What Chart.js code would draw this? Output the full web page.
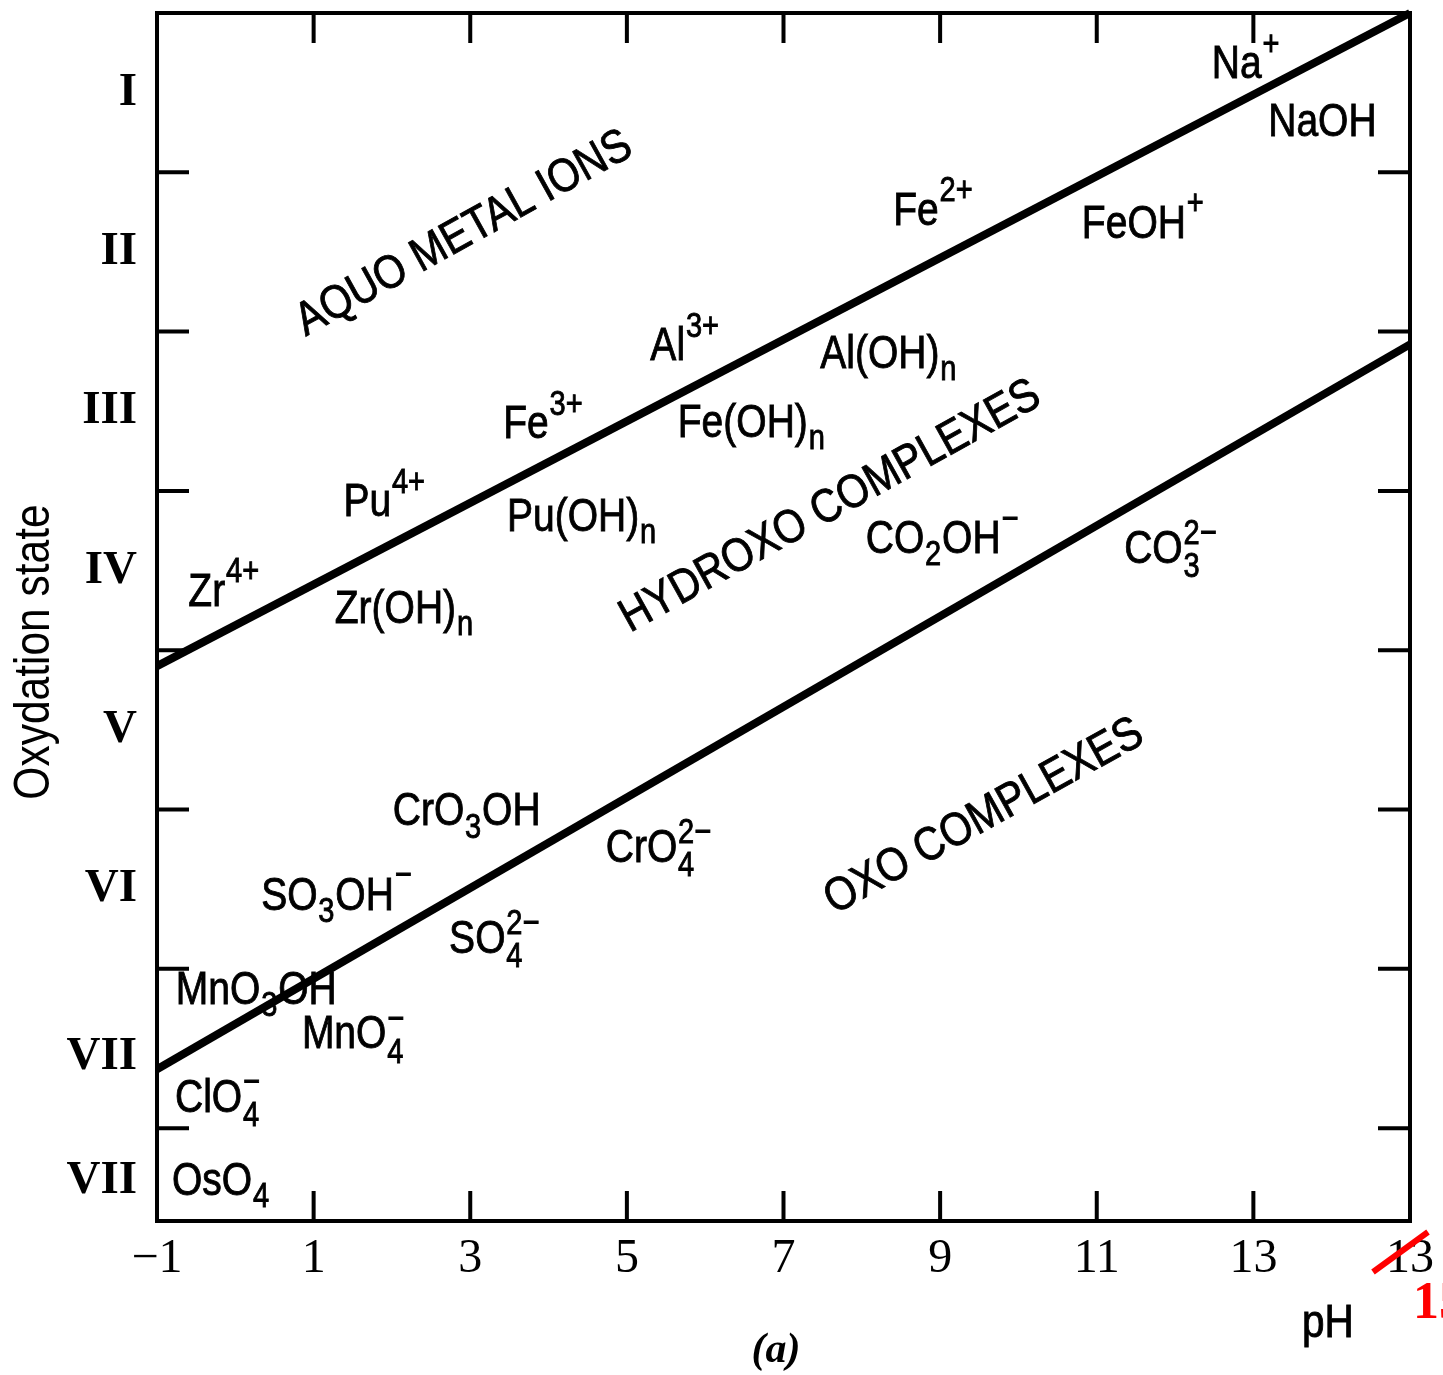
<!DOCTYPE html>
<html lang="en">
<head>
<meta charset="UTF-8">
<title>Oxydation state vs pH</title>
<style>
  body { margin: 0; background: #fff; }
  #grafico { display: block; }
</style>
</head>
<body>
<canvas id="grafico" width="1443" height="1375"></canvas>
<script src="https://cdn.jsdelivr.net/npm/chart.js"></script>
<script>
// boundary lines (pH, oxydation position)
var pHEnds = [-1, 15];
var aquoHydroxo = [4.10, 0.00];   // AQUO / HYDROXO boundary
var hydroxoOxo = [6.63, 2.08];    // HYDROXO / OXO boundary

// axes
var xTicks = [-1, 1, 3, 5, 7, 9, 11, 13, 15];
var xTickLabels = ['\u22121', '1', '3', '5', '7', '9', '11', '13', '13'];
var xInnerTicks = [1, 3, 5, 7, 9, 11, 13];
var yLabelPos = [0.5, 1.5, 2.5, 3.5, 4.5, 5.5, 6.55, 7.33];
var yTickLabels = ['I', 'II', 'III', 'IV', 'V', 'VI', 'VII', 'VII'];
var yInnerTicks = [1, 2, 3, 4, 5, 6, 7];

// species: [text, pH, oxydation] at the start of the baseline
var especies = [
  ['Na^{+}', 12.47, 0.41],
  ['NaOH', 13.19, 0.77],
  ['FeOH^{+}', 10.81, 1.41],
  ['Fe^{2+}', 8.40, 1.33],
  ['Al^{3+}', 5.30, 2.18],
  ['Al(OH)_{n}', 7.47, 2.23],
  ['Fe^{3+}', 3.42, 2.67],
  ['Fe(OH)_{n}', 5.65, 2.66],
  ['Pu^{4+}', 1.38, 3.16],
  ['Pu(OH)_{n}', 3.47, 3.25],
  ['CO_{2}OH^{\u2212}', 8.05, 3.39],
  ['CO_{3}^{2\u2212}', 11.35, 3.45],
  ['Zr^{4+}', -0.60, 3.72],
  ['Zr(OH)_{n}', 1.27, 3.83],
  ['CrO_{3}OH', 2.01, 5.10],
  ['CrO_{4}^{2\u2212}', 4.73, 5.33],
  ['SO_{3}OH^{\u2212}', 0.33, 5.63],
  ['SO_{4}^{2\u2212}', 2.73, 5.90],
  ['MnO_{3}OH', -0.76, 6.22],
  ['MnO_{4}^{\u2212}', 0.85, 6.50],
  ['ClO_{4}^{\u2212}', -0.77, 6.90],
  ['OsO_{4}', -0.81, 7.42]
];

// region names: [text, pH, oxydation]
var regioes = [
  ['AQUO METAL IONS', 0.90, 2.03],
  ['HYDROXO COMPLEXES', 5.04, 3.89],
  ['OXO COMPLEXES', 7.65, 5.66]
];

function partes(txt) {
  var out = [], re = /([_^])\{([^}]*)\}|([^_^]+)/g, m;
  while ((m = re.exec(txt))) {
    if (m[3]) out.push({ t: m[3], k: 'n' });
    else out.push({ t: m[2], k: m[1] == '_' ? 'sub' : 'sup' });
  }
  return out;
}

// fill + thin stroke, the print is a bit heavier than plain Liberation Sans
function texto(ctx, t, x, y) {
  ctx.fillText(t, x, y);
  ctx.strokeText(t, x, y);
}

function desenhaFormula(ctx, txt, size) {
  var p = partes(txt), x = 0, small = Math.round(size * 0.74);
  for (var i = 0; i < p.length; i++) {
    if (p[i].k == 'n') {
      ctx.font = size + 'px "Liberation Sans"';
      texto(ctx, p[i].t, x, 0);
      x += ctx.measureText(p[i].t).width;
    } else {
      ctx.font = small + 'px "Liberation Sans"';
      var w = ctx.measureText(p[i].t).width;
      var nx = p[i + 1];
      if (p[i].k == 'sub' && nx && nx.k == 'sup') {
        // stacked charge over the index
        texto(ctx, p[i].t, x + 1, size * 0.3);
        texto(ctx, nx.t, x + 1, -size * 0.4);
        w = Math.max(w, ctx.measureText(nx.t).width);
        i++;
      } else {
        texto(ctx, p[i].t, x + 1, p[i].k == 'sub' ? size * 0.26 : -size * 0.5);
      }
      x += w + 2;
    }
  }
}

var moldura = {
  id: 'moldura',
  afterDatasetsDraw(chart) {
    var ctx = chart.ctx, a = chart.chartArea, sx = chart.scales.x, sy = chart.scales.y;
    ctx.save();
    ctx.strokeStyle = '#000';
    ctx.lineWidth = 4;
    ctx.strokeRect(a.left, a.top, a.right - a.left, a.bottom - a.top);

    // ticks pointing inward on all four sides
    ctx.beginPath();
    xInnerTicks.forEach(function (v) {
      var px = sx.getPixelForValue(v);
      ctx.moveTo(px, a.top); ctx.lineTo(px, a.top + 30);
      ctx.moveTo(px, a.bottom); ctx.lineTo(px, a.bottom - 30);
    });
    yInnerTicks.forEach(function (v) {
      var py = sy.getPixelForValue(v);
      ctx.moveTo(a.left, py); ctx.lineTo(a.left + 32, py);
      ctx.moveTo(a.right, py); ctx.lineTo(a.right - 32, py);
    });
    ctx.stroke();

    ctx.fillStyle = '#000';
    ctx.lineWidth = 0.9;
    ctx.textBaseline = 'alphabetic';
    ctx.textAlign = 'left';
    especies.forEach(function (e) {
      ctx.save();
      ctx.translate(sx.getPixelForValue(e[1]), sy.getPixelForValue(e[2]));
      ctx.scale(0.83, 1);
      desenhaFormula(ctx, e[0], 47);
      ctx.restore();
    });
    regioes.forEach(function (r) {
      ctx.save();
      ctx.translate(sx.getPixelForValue(r[1]), sy.getPixelForValue(r[2]));
      ctx.rotate(-29 * Math.PI / 180);
      ctx.scale(0.87, 1);
      ctx.font = '47px "Liberation Sans"';
      texto(ctx, r[0], 0, 0);
      ctx.restore();
    });

    // axis titles
    ctx.save();
    ctx.translate(35, 652);
    ctx.rotate(-Math.PI / 2);
    ctx.scale(0.85, 1);
    ctx.textAlign = 'center';
    ctx.textBaseline = 'middle';
    ctx.font = '50px "Liberation Sans"';
    ctx.fillText('Oxydation state', 0, 0);
    ctx.restore();

    ctx.save();
    ctx.translate(1302, 1337);
    ctx.scale(0.88, 1);
    ctx.font = '46px "Liberation Sans"';
    texto(ctx, 'pH', 0, 0);
    ctx.restore();

    ctx.font = 'italic bold 42px "Liberation Serif"';
    ctx.textAlign = 'center';
    ctx.fillText('(a)', 776, 1362);

    // hand correction of the last tick label
    var p15 = sx.getPixelForValue(15);
    ctx.strokeStyle = '#ff0000';
    ctx.lineWidth = 6;
    ctx.beginPath();
    ctx.moveTo(p15 - 37, a.bottom + 51);
    ctx.lineTo(p15 + 18, a.bottom + 11);
    ctx.stroke();
    ctx.fillStyle = '#ff0000';
    ctx.textAlign = 'left';
    ctx.font = 'bold 52px "Liberation Serif"';
    ctx.fillText('15', p15 + 3, a.bottom + 97);
    ctx.restore();
  }
};

function linha(valores) {
  return {
    data: pHEnds.map(function (x, i) { return { x: x, y: valores[i] }; }),
    borderColor: '#000',
    borderWidth: 8,
    pointRadius: 0,
    clip: 4
  };
}

new Chart(document.getElementById('grafico'), {
  type: 'line',
  data: { datasets: [linha(aquoHydroxo), linha(hydroxoOxo)] },
  options: {
    responsive: false,
    animation: false,
    layout: { padding: { top: 13, right: 33, left: 0, bottom: 0 } },
    plugins: { legend: { display: false }, tooltip: { enabled: false } },
    scales: {
      x: {
        type: 'linear', min: -1, max: 15,
        grid: { display: false }, border: { display: false },
        afterBuildTicks: function (s) { s.ticks = xTicks.map(function (v) { return { value: v }; }); },
        afterFit: function (s) { s.height = 154; s.paddingLeft = 0; s.paddingRight = 0; },
        ticks: {
          autoSkip: false, maxRotation: 0, padding: 2, color: '#000',
          font: { family: 'Liberation Serif', size: 48 },
          callback: function (v, i) { return xTickLabels[i]; }
        }
      },
      y: {
        type: 'linear', min: 0, max: 7.583, reverse: true,
        grid: { display: false }, border: { display: false },
        afterBuildTicks: function (s) { s.ticks = yLabelPos.map(function (v) { return { value: v }; }); },
        afterFit: function (s) { s.width = 157; s.paddingTop = 0; s.paddingBottom = 0; },
        ticks: {
          autoSkip: false, padding: 12, color: '#000',
          font: { family: 'Liberation Serif', size: 47, weight: 'bold' },
          callback: function (v, i) { return yTickLabels[i]; }
        }
      }
    }
  },
  plugins: [moldura]
});
</script>
</body>
</html>
